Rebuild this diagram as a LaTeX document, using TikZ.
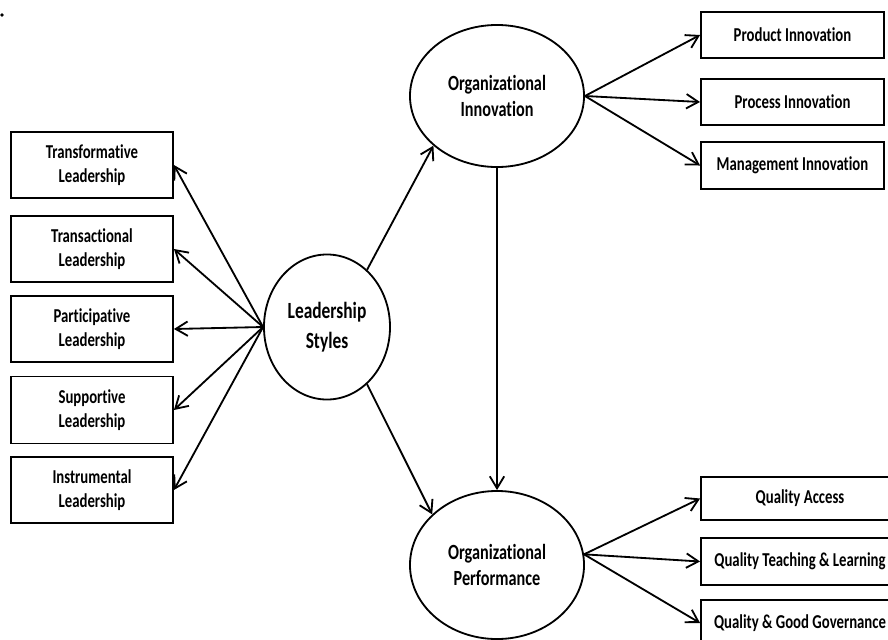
\documentclass[tikz,border=0pt]{standalone}
\usepackage{fontspec}
\setmainfont[FakeStretch=0.75, Ligatures=NoCommon]{Carlito}
\usetikzlibrary{shapes.geometric, arrows.meta}

\begin{document}
\begin{tikzpicture}[x=0.025cm, y=-0.025cm, line width=1.3pt,
  >={Straight Barb[length=3mm, width=3.6mm]},
  box/.style={draw, rectangle, align=center, inner sep=1pt, font=\fontsize{14}{17}\selectfont\bfseries},
  construct/.style={draw, ellipse, align=center, inner sep=0pt, font=\fontsize{15.4}{19}\selectfont\bfseries}]
  \useasboundingbox (0,0) rectangle (888,639);
  \clip (0,0) rectangle (888,639);
  \fill (2,15) circle (1.3pt);

  % leadership styles and its dimensions
  \node[construct, minimum width=3.15cm, minimum height=3.625cm, font=\fontsize{16.5}{21}\selectfont\bfseries] (ls) at (327,327) {Leadership\\Styles};
  \node[box, minimum width=4.05cm, minimum height=1.65cm] (trf) at (92,165) {Transformative\\Leadership};
  \node[box, minimum width=4.05cm, minimum height=1.65cm] (trs) at (92,249) {Transactional\\Leadership};
  \node[box, minimum width=4.05cm, minimum height=1.65cm] (par) at (92,329) {Participative\\Leadership};
  \node[box, minimum width=4.05cm, minimum height=1.675cm] (spt) at (92,410) {Supportive\\Leadership};
  \node[box, minimum width=4.05cm, minimum height=1.65cm] (ins) at (92,490) {Instrumental\\Leadership};

  \draw[->] (ls.west) -- (trf.east); \draw[->] (ls.west) -- (trs.east); \draw[->] (ls.west) -- (par.east);
  \draw[->] (ls.west) -- (spt.east); \draw[->] (ls.west) -- (ins.east);

  % organizational innovation
  \node[construct, minimum width=4.35cm, minimum height=3.55cm] (oi) at (497,96) {Organizational\\Innovation};
  \node[box, minimum width=4.575cm, minimum height=1.15cm] (pdi) at (792.5,35) {Product Innovation};
  \node[box, minimum width=4.575cm, minimum height=1.15cm] (pci) at (792.5,102) {Process Innovation};
  \node[box, minimum width=4.575cm, minimum height=1.175cm] (mgi) at (792.5,165.5) {Management Innovation};

  \draw[->] (oi.east) -- (pdi.west); \draw[->] (oi.east) -- (pci.west); \draw[->] (oi.east) -- (mgi.west);

  % organizational performance
  \node[construct, minimum width=4.35cm, minimum height=3.7cm] (op) at (497,565) {Organizational\\Performance};
  \node[box, minimum width=4.95cm, minimum height=1.075cm] (qac) at (800,498.5) {Quality Access};
  \node[box, minimum width=4.95cm, minimum height=1.175cm] (qtl) at (800,561.5) {Quality Teaching \& Learning};
  \node[box, minimum width=4.95cm, minimum height=1.15cm] (qgg) at (800,623) {Quality \& Good Governance};

  \draw[->] (op.7) -- (qac.west); \draw[->] (op.7) -- (qtl.west); \draw[->] (op.7) -- (qgg.west);

  \draw[->] (ls.55) -- (oi.218);
  \draw[->] (ls.-55) -- (op.142);
  \draw[->] (oi.south) -- (op.north);
\end{tikzpicture}
\end{document}
